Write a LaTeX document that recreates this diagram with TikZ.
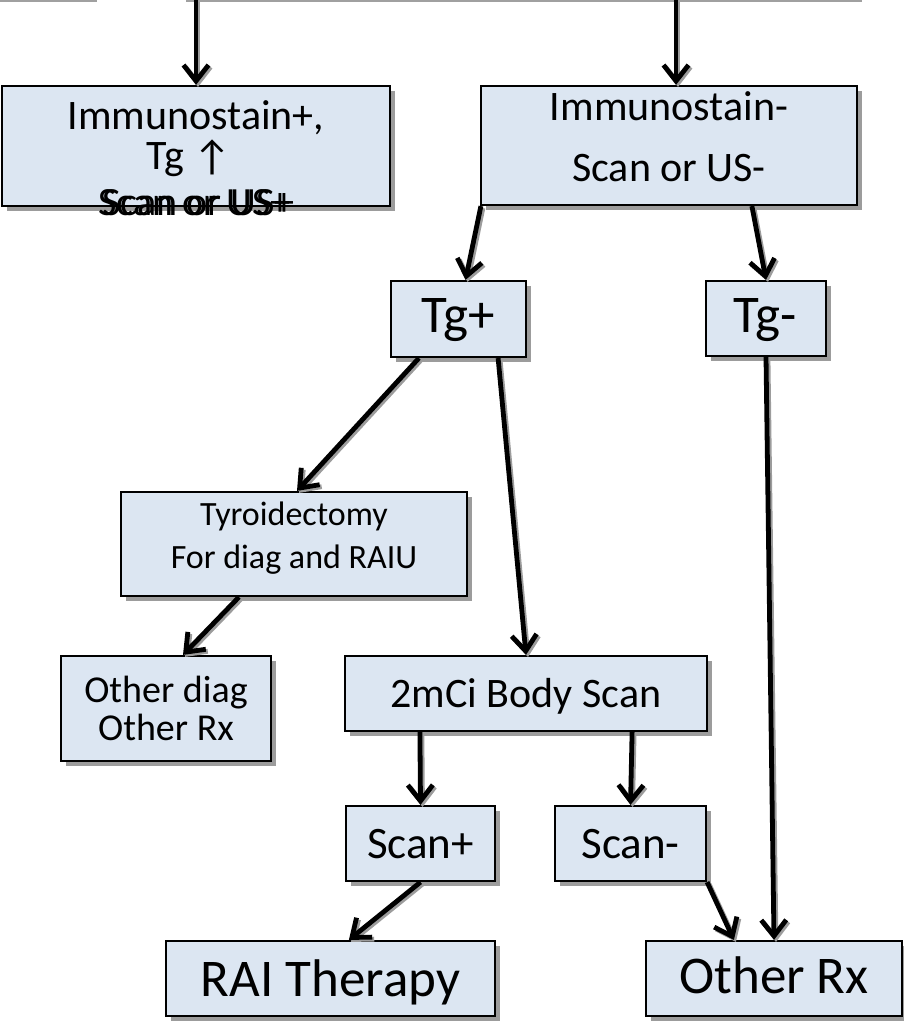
\documentclass[tikz,border=0pt]{standalone}
\usepackage{fontspec}
\setmainfont{Carlito}
\usetikzlibrary{arrows.meta,shadows,calc}
\definecolor{boxfill}{HTML}{DCE6F2}
\definecolor{shadowgray}{HTML}{9C9C9C}
\definecolor{topgray}{HTML}{A0A0A0}
\newcommand\fsz[1]{\fontsize{#1}{#1}\selectfont}
\tikzset{
  box/.style={draw=black, line width=2.2pt, fill=boxfill, inner sep=0pt,
    drop shadow={shadow xshift=5pt, shadow yshift=-5pt, fill=shadowgray, opacity=1}},
  lbl/.style={anchor=base, inner sep=0pt, text=black},
  conn/.style={line width=4.8pt, -{Straight Barb[length=16pt,width=25pt]},
    preaction={draw=shadowgray, line width=4.8pt, transform canvas={shift={(2pt,-2pt)}}}},
}
\begin{document}
\begin{tikzpicture}[x=1pt,y=-1pt]
\useasboundingbox (0,0) rectangle (904,1022);
% partial top lines
\draw[topgray, line width=2.5pt] (0,1) -- (97,1);
\draw[topgray, line width=2.5pt] (186,1) -- (862,1);
\coordinate (t1) at (196,0);
\coordinate (t2) at (676,0);
% boxes
\node[box, minimum width=388pt, minimum height=120pt] (b1) at (196,146) {};
\node[box, minimum width=376pt, minimum height=119pt] (b2) at (669,145.5) {};
\node[box, minimum width=135pt, minimum height=76pt] (tgp) at (458.5,319) {};
\node[box, minimum width=120pt, minimum height=75pt] (tgm) at (766,318.5) {};
\node[box, minimum width=346pt, minimum height=104pt] (thy) at (294,544) {};
\node[box, minimum width=210pt, minimum height=105pt] (od) at (166,708.5) {};
\node[box, minimum width=362pt, minimum height=75pt] (bs) at (526,693.5) {};
\node[box, minimum width=149pt, minimum height=75pt] (sp) at (420.5,843.5) {};
\node[box, minimum width=151pt, minimum height=75pt] (sm) at (630.5,843.5) {};
\node[box, minimum width=329pt, minimum height=75pt] (rai) at (330.5,978.5) {};
\node[box, minimum width=256pt, minimum height=75pt] (orx) at (774,978.5) {};
% texts
\node[lbl, font=\fsz{42}] (b1a) at (196,129) {Immunostain+,};
\node[lbl, font=\fsz{42}] (b1b) at (189,169) {Tg \raisebox{-1pt}{↑}};
\node[lbl, anchor=base west, font=\fsz{40}] (b1c) at (98,215) {Scan or US+};
\node[lbl, anchor=base west, font=\fsz{40}] (b1d) at (102,215) {Scan or US+};
\node[lbl, font=\fsz{42}] (b2a) at (669,121) {Immunostain-};
\node[lbl, font=\fsz{42}] (b2b) at (669,181) {Scan or US-};
\node[lbl, font=\fsz{53}] (tgpt) at (458.5,332) {Tg+};
\node[lbl, font=\fsz{53}] (tgmt) at (765,332) {Tg-};
\node[lbl, font=\fsz{34}] (thya) at (294,525) {Tyroidectomy};
\node[lbl, font=\fsz{34}] (thyb) at (294,568) {For diag and RAIU};
\node[lbl, font=\fsz{38}] (oda) at (166,702) {Other diag};
\node[lbl, font=\fsz{38}] (odb) at (166,740) {Other Rx};
\node[lbl, font=\fsz{42}] (bst) at (526,707) {2mCi Body Scan};
\node[lbl, font=\fsz{45}] (spt) at (420.5,858) {Scan+};
\node[lbl, font=\fsz{45}] (smt) at (630.5,858) {Scan-};
\node[lbl, font=\fsz{53}] (rait) at (330.5,996) {RAI Therapy};
\node[lbl, font=\fsz{53}] (orxt) at (774,993) {Other Rx};
% connectors
\draw[conn] (t1) -- (b1.north);
\draw[conn] (t2) -- ([xshift=7pt]b2.north);
\draw[conn] ([xshift=1pt]b2.south west) -- ([xshift=7pt]tgp.north);
\draw[conn] ([xshift=272pt]b2.south west) -- (tgm.north);
\draw[conn] ([xshift=29pt]tgp.south west) -- ([xshift=3pt]thy.north);
\draw[conn] ([xshift=-29pt]tgp.south east) -- (bs.north);
\draw[conn] (tgm.south) -- (orx.north);
\draw[conn] ([xshift=119pt]thy.south west) -- ([xshift=17pt]od.north);
\draw[conn] ([xshift=76pt]bs.south west) -- (sp.north);
\draw[conn] ([xshift=-76pt]bs.south east) -- (sm.north);
\draw[conn] (sp.south) -- ([xshift=184pt]rai.north west);
\draw[conn] (sm.south east) -- ([xshift=89pt]orx.north west);
\end{tikzpicture}
\end{document}
